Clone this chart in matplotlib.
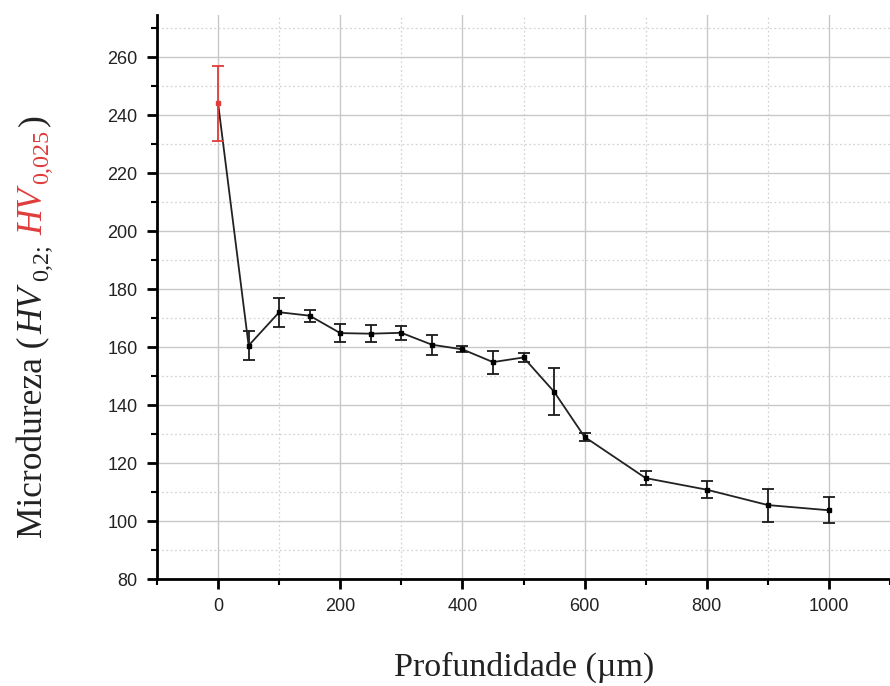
import matplotlib
matplotlib.use("Agg")
import matplotlib.pyplot as plt
from matplotlib.ticker import MultipleLocator
from matplotlib.transforms import IdentityTransform

# depth (um) and microhardness, with error (std dev)
depth = [0, 50, 100, 150, 200, 250, 300, 350, 400, 450, 500, 550, 600, 700, 800, 900, 1000]
hardness = [244, 160.5, 172, 170.8, 164.8, 164.6, 164.9, 160.8, 159.2, 154.8, 156.4, 144.6, 129, 114.8, 110.8, 105.5, 103.7]
err = [13, 5, 5, 2, 3, 3, 2.5, 3.5, 1, 4, 1.5, 8, 1.5, 2.5, 3, 5.7, 4.5]

# surface point measured with HV 0,025 (red)
surf_depth = [0]
surf_hard = [244]
surf_err = [13]

fig = plt.figure(figsize=(8.9, 6.86), dpi=100)
ax = fig.add_axes([157 / 890, 107 / 686, 733 / 890, 564 / 686])

ax.set_xlim(-100, 1100)
ax.set_ylim(80, 274.5)

ax.xaxis.set_major_locator(MultipleLocator(200))
ax.xaxis.set_minor_locator(MultipleLocator(100))
ax.yaxis.set_major_locator(MultipleLocator(20))
ax.yaxis.set_minor_locator(MultipleLocator(10))

ax.grid(which="major", color="#c8c8c8", lw=1.0)
ax.grid(which="minor", color="#d4d4d4", lw=0.9, ls=(0, (1.5, 2)))
ax.set_axisbelow(True)

# black series (HV 0,2)
ax.errorbar(depth[1:], hardness[1:], yerr=err[1:], fmt="none", ecolor="#1a1a1a",
            elinewidth=1.3, capsize=4, capthick=1.3, zorder=3)
ax.plot(depth, hardness, color="#222222", lw=1.3, zorder=3)
ax.plot(depth[1:], hardness[1:], "s", color="black", ms=3.5, zorder=4)

# red surface point
ax.errorbar(surf_depth, surf_hard, yerr=surf_err, fmt="s", color="#e03c3c", ms=3.5,
            ecolor="#e03c3c", elinewidth=1.3, capsize=4, capthick=1.3, zorder=5)

for side in ["top", "right"]:
    ax.spines[side].set_visible(False)
for side in ["left", "bottom"]:
    ax.spines[side].set_linewidth(2)

ax.tick_params(which="major", direction="out", length=7, width=2, labelsize=13,
               labelcolor="#222222", pad=7)
ax.tick_params(which="minor", direction="out", length=4, width=1.5)
for lab in ax.get_xticklabels() + ax.get_yticklabels():
    lab.set_family("Liberation Sans")

fig.text(524.5 / 890, 10 / 686, "Profundidade (µm)", family="Liberation Serif",
         fontsize=24.5, ha="center", va="baseline", color="#222222")

# multi-coloured rotated y label built from pieces
fs = 25.5
pieces = [
    # text, colour, style, size, shift px, gap before px
    ("Microdureza (", "#222222", "normal", fs, 0, 0),
    ("HV", "#222222", "italic", fs, 0, 2),
    ("0,2;", "#222222", "normal", fs * 0.68, 6, 6),
    ("HV", "#e03c3c", "italic", fs, 0, 9),
    ("0,025", "#e03c3c", "normal", fs * 0.68, 6, 4),
    (")", "#222222", "normal", fs, 0, 4),
]
fig.canvas.draw()
renderer = fig.canvas.get_renderer()
base_x = 42
texts = []
total = 0
for s, c, st, sz, sh, gap in pieces:
    t = fig.text(0, 0, s, color=c, style=st, fontsize=sz, family="Liberation Serif",
                 rotation=90, rotation_mode="anchor", ha="left", va="baseline",
                 transform=IdentityTransform())
    h = t.get_window_extent(renderer).height
    texts.append((t, h, sh, gap))
    total += h + gap
y = 360 - total / 2
for t, h, sh, gap in texts:
    y += gap
    t.set_position((base_x + sh, y))
    y += h

fig.savefig("out.png", dpi=100)
